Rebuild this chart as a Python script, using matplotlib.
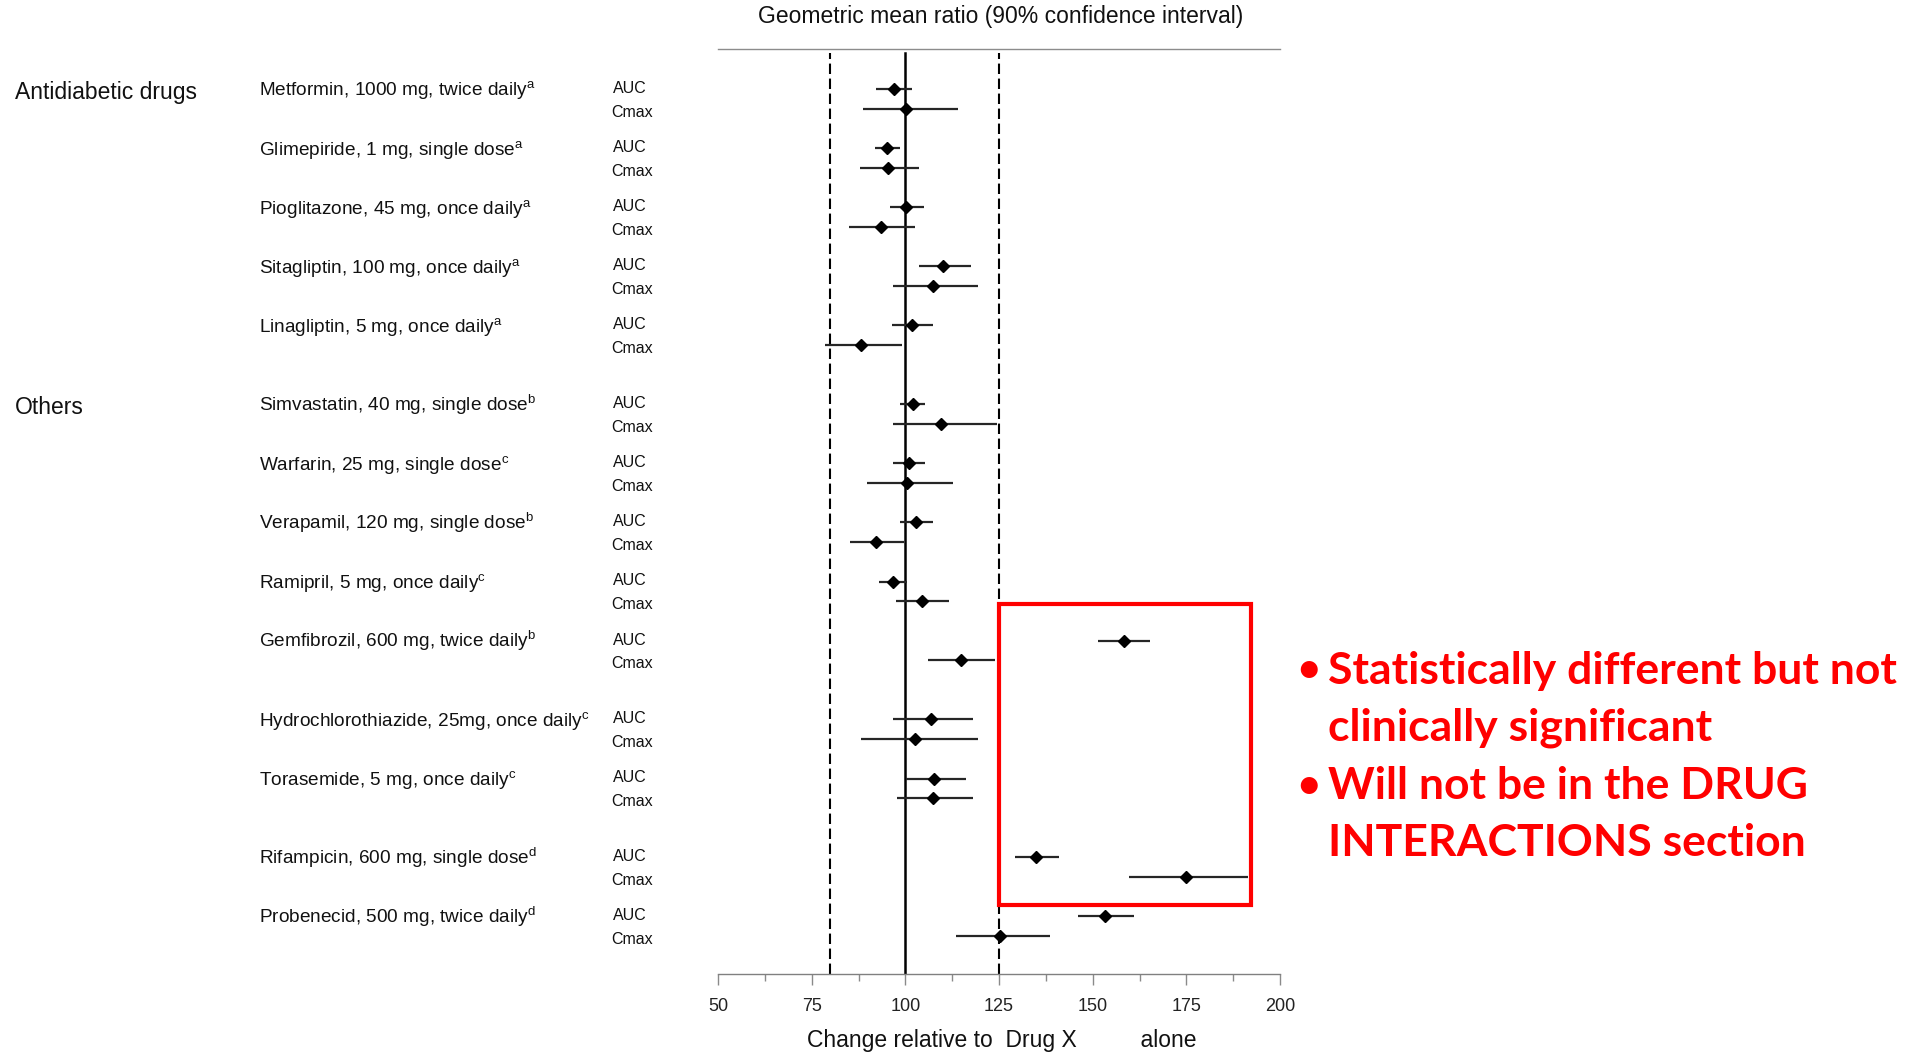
import matplotlib
matplotlib.use('Agg')
import matplotlib.pyplot as plt
from matplotlib.patches import Rectangle
from matplotlib.transforms import blended_transform_factory

plt.rcParams['font.family'] = ['Liberation Sans', 'DejaVu Sans']
plt.rcParams['mathtext.fontset'] = 'custom'
plt.rcParams['mathtext.rm'] = 'Liberation Sans'
plt.rcParams['mathtext.it'] = 'Liberation Sans:italic'

# data (geometric mean ratio, 90% CI, % of Drug X alone)
drugs = ['Metformin, 1000 mg, twice daily', 'Glimepiride, 1 mg, single dose',
         'Pioglitazone, 45 mg, once daily', 'Sitagliptin, 100 mg, once daily',
         'Linagliptin, 5 mg, once daily', 'Simvastatin, 40 mg, single dose',
         'Warfarin, 25 mg, single dose', 'Verapamil, 120 mg, single dose',
         'Ramipril, 5 mg, once daily', 'Gemfibrozil, 600 mg, twice daily',
         'Hydrochlorothiazide, 25mg, once daily', 'Torasemide, 5 mg, once daily',
         'Rifampicin, 600 mg, single dose', 'Probenecid, 500 mg, twice daily']
footnotes = ['a', 'a', 'a', 'a', 'a', 'b', 'c', 'b', 'c', 'b', 'c', 'c', 'd', 'd']

auc_gmr = [96.9, 95.1, 100.1, 110.1, 101.7, 102.0, 100.9, 102.8, 96.6, 158.3, 106.9, 107.7, 135.0, 153.3]
auc_lo = [92.2, 91.8, 95.8, 103.6, 96.4, 98.7, 96.6, 98.7, 92.9, 151.5, 96.8, 100.2, 129.4, 146.2]
auc_hi = [101.8, 98.6, 104.9, 117.5, 107.4, 105.3, 105.3, 107.3, 100.4, 165.4, 118.1, 116.2, 141.1, 160.9]

cmax_gmr = [100.3, 95.5, 93.4, 107.4, 88.3, 109.4, 100.5, 92.3, 104.4, 114.9, 102.7, 107.4, 174.8, 125.4]
cmax_lo = [88.6, 88.0, 84.9, 96.8, 78.6, 96.8, 89.7, 85.1, 97.5, 106.0, 88.3, 97.8, 159.8, 113.5]
cmax_hi = [114.0, 103.6, 102.7, 119.5, 99.0, 124.4, 112.8, 99.7, 111.7, 124.0, 119.4, 118.1, 191.4, 138.7]

groups = [('Antidiabetic drugs', 0), ('Others', 5)]
gap_before = [5, 10, 12]   # extra blank row before these drugs

ticks = [50, 75, 100, 125, 150, 175, 200]
notes = ['Statistically different but not', 'clinically significant',
         'Will not be in the DRUG', 'INTERACTIONS section']

W, H = 1911, 1052
fig = plt.figure(figsize=(W / 100, H / 100), dpi=100)
ax = fig.add_axes([718 / W, 1 - 974 / H, 562 / W, (974 - 49) / H])

rows = []
for i in range(len(drugs)):
    rows.append(3 * i + sum(1 for g in gap_before if g <= i))
auc_y = rows
cmax_y = [r + 1 for r in rows]

ax.axvline(100, color='black', lw=1.8, ymax=0.996, zorder=1)
for ref in (80, 125):
    ax.axvline(ref, color='black', lw=1.5, ls=(0, (5, 2.2)), ymax=0.996, zorder=1)

ax.hlines(auc_y, auc_lo, auc_hi, color='#262626', lw=1.6, zorder=2)
ax.hlines(cmax_y, cmax_lo, cmax_hi, color='#262626', lw=1.6, zorder=2)
ax.plot(auc_gmr, auc_y, 'D', color='black', ms=6, zorder=3)
ax.plot(cmax_gmr, cmax_y, 'D', color='black', ms=6, zorder=3)

ax.set_xlim(50, 200)
ax.set_ylim(44.92, -2.03)
ax.set_xticks(ticks)
ax.set_xticks([t + 12.5 for t in ticks[:-1]], minor=True)
ax.set_yticks([])
ax.tick_params(axis='x', which='major', length=8, width=1, color='#8a8a8a',
               labelsize=13, pad=9.5, labelcolor='#222222')
ax.tick_params(axis='x', which='minor', length=5, width=1, color='#8a8a8a')
for s in ('left', 'right'):
    ax.spines[s].set_visible(False)
ax.spines['top'].set_color('#8c8c8c')
ax.spines['bottom'].set_color('#808080')
ax.spines['top'].set_linewidth(1.0)
ax.spines['bottom'].set_linewidth(1.0)

# highlight box around the out-of-bounds results
ax.add_patch(Rectangle((125, 26.14), 192.3 - 125, 41.42 - 26.14, fill=False,
                       edgecolor='#ff0000', lw=3, clip_on=False, zorder=4))

# left-hand labels: x in figure fraction, y in data rows
tr = blended_transform_factory(fig.transFigure, ax.transData)
for name, idx in groups:
    fig.text(15 / W, rows[idx] + 0.5, name, transform=tr, fontsize=16.5,
             va='baseline', ha='left', color='#111111')
for i, name in enumerate(drugs):
    fig.text(259 / W, auc_y[i] + 0.33, name + r'$^{\mathrm{' + footnotes[i] + '}}$',
             transform=tr, fontsize=13.7, va='baseline', ha='left', color='#111111')
    fig.text(613 / W, auc_y[i] + 0.2, 'AUC', transform=tr, fontsize=11.5,
             va='baseline', ha='left', color='#111111')
    fig.text(611 / W, cmax_y[i] + 0.4, 'Cmax', transform=tr, fontsize=11.5,
             va='baseline', ha='left', color='#111111')

fig.text(1001 / W, 1 - 17 / H, 'Geometric mean ratio (90% confidence interval)',
         fontsize=16.5, ha='center', va='center', color='#111111')
fig.text(1002 / W, 1 - 1040 / H, 'Change relative to  Drug X          alone',
         fontsize=16.5, ha='center', va='center', color='#111111')

# red bullet notes
base = [684, 741, 799, 856]
for k, line in enumerate(notes):
    if k in (0, 2):
        fig.text(1309 / W, 1 - (base[k] - 14) / H, '\u2022', fontsize=28, family='Lato',
                 weight='bold', color='#ff0000', va='center', ha='center')
    fig.text(1328 / W, 1 - base[k] / H, line, fontsize=32, family='Lato',
             weight='bold', color='#ff0000', va='baseline', ha='left')

fig.savefig('out.png', dpi=100)
